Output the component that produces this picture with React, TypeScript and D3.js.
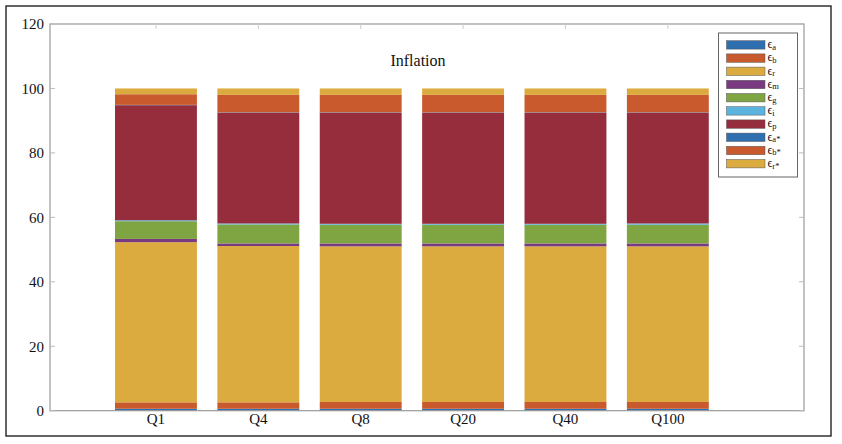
import * as d3 from "d3";
import { useEffect, useRef } from "react";

const categories = ["Q1", "Q4", "Q8", "Q20", "Q40", "Q100"];
const shockKeys = ["ea", "eb", "er", "em", "eg", "ei", "ep", "eas", "ebs", "ers"];
const shockSubs = ["a", "b", "r", "m", "g", "i", "p", "a*", "b*", "r*"];
const shockColors = [
    "#2f6fb0", "#c95a2e", "#dcab40", "#7a3a82", "#7fa442",
    "#5bb4de", "#962d3c", "#2f6fb0", "#c95a2e", "#dcab40",
];

// variance share (%) per horizon, one array per shock
const ea = [0.6, 0.6, 0.6, 0.6, 0.6, 0.6];
const eb = [2.0, 2.0, 2.1, 2.1, 2.1, 2.1];
const er = [49.7, 48.5, 48.3, 48.3, 48.3, 48.3];
const em = [1.0, 0.8, 0.9, 0.9, 0.9, 0.9];
const eg = [5.5, 5.9, 5.8, 5.8, 5.8, 5.8];
const ei = [0.3, 0.3, 0.3, 0.3, 0.3, 0.4];
const ep = [35.7, 34.4, 34.5, 34.5, 34.5, 34.4];
const eas = [0.1, 0.1, 0.1, 0.1, 0.1, 0.1];
const ebs = [3.3, 5.4, 5.4, 5.4, 5.4, 5.4];
const ers = [1.8, 2.0, 2.0, 2.0, 2.0, 2.0];

const yTicks = [0, 20, 40, 60, 80, 100, 120];

const App = () => {
    const ref = useRef<SVGSVGElement>(null);

    useEffect(() => {
        if (!ref.current) return;
        const svg = d3.select(ref.current);
        svg.selectAll("*").remove();

        const font = "Liberation Serif, Times New Roman, DejaVu Serif, serif";
        const left = 50, right = 804, top = 24, bottom = 410.7;

        const table = categories.map((c, i) => ({
            cat: c,
            ea: ea[i], eb: eb[i], er: er[i], em: em[i], eg: eg[i],
            ei: ei[i], ep: ep[i], eas: eas[i], ebs: ebs[i], ers: ers[i],
        }));
        const series = d3.stack<any>().keys(shockKeys)(table);

        const x = d3.scaleLinear().domain([-0.035, 7.33]).range([left, right]);
        const y = d3.scaleLinear().domain([0, 120]).range([bottom, top]);
        const barW = x(0.8) - x(0);

        // outer frame
        svg.append("rect")
            .attr("x", 6).attr("y", 6).attr("width", 825).attr("height", 430)
            .attr("fill", "white").attr("stroke", "#111").attr("stroke-width", 1.3);

        svg.append("g")
            .selectAll("g")
            .data(series)
            .join("g")
            .attr("fill", (_d, i) => shockColors[i])
            .selectAll("rect")
            .data((d) => d)
            .join("rect")
            .attr("x", (_d, i) => x(i + 1) - barW / 2)
            .attr("y", (d) => y(d[1]))
            .attr("width", barW)
            .attr("height", (d) => y(d[0]) - y(d[1]));

        // axes box + inward ticks
        const axis = svg.append("g").attr("stroke", "#999").attr("fill", "none");
        axis.append("rect")
            .attr("x", left).attr("y", top)
            .attr("width", right - left).attr("height", bottom - top)
            .attr("stroke-width", 1.2);
        yTicks.forEach((t) => {
            axis.append("line").attr("x1", left).attr("x2", left + 5)
                .attr("y1", y(t)).attr("y2", y(t)).attr("stroke", "#bbb");
            axis.append("line").attr("x1", right - 5).attr("x2", right)
                .attr("y1", y(t)).attr("y2", y(t)).attr("stroke", "#bbb");
        });
        categories.forEach((_c, i) => {
            axis.append("line").attr("x1", x(i + 1)).attr("x2", x(i + 1))
                .attr("y1", top).attr("y2", top + 5).attr("stroke", "#ccc");
        });

        svg.append("g")
            .selectAll("text")
            .data(yTicks)
            .join("text")
            .attr("x", 44)
            .attr("y", (d) => y(d))
            .attr("dy", "0.35em")
            .attr("text-anchor", "end")
            .attr("font-family", font)
            .attr("font-size", 15)
            .attr("fill", "#111")
            .text((d) => d);

        svg.append("g")
            .selectAll("text")
            .data(categories)
            .join("text")
            .attr("x", (_d, i) => x(i + 1))
            .attr("y", 424)
            .attr("text-anchor", "middle")
            .attr("font-family", font)
            .attr("font-size", 15)
            .attr("fill", "#111")
            .text((d) => d);

        svg.append("text")
            .attr("x", 418).attr("y", 66)
            .attr("text-anchor", "middle")
            .attr("font-family", font)
            .attr("font-size", 16)
            .attr("fill", "#111")
            .text("Inflation");

        // legend
        const lg = svg.append("g");
        lg.append("rect")
            .attr("x", 718.5).attr("y", 33).attr("width", 79).attr("height", 144)
            .attr("fill", "white").attr("stroke", "#666").attr("stroke-width", 1);
        const rows = lg.selectAll("g.row")
            .data(shockSubs)
            .join("g")
            .attr("transform", (_d, i) => `translate(0,${40.7 + i * 13.2})`);
        rows.append("rect")
            .attr("x", 726.5).attr("y", 0).attr("width", 38.5).attr("height", 8.4)
            .attr("fill", (_d, i) => shockColors[i])
            .attr("stroke", "#555").attr("stroke-width", 0.5);
        const lt = rows.append("text")
            .attr("x", 767.5).attr("y", 7.5)
            .attr("font-family", font)
            .attr("font-size", 12)
            .attr("fill", "#111");
        lt.append("tspan").text("\u03f5");
        lt.append("tspan")
            .attr("dy", 1.5)
            .attr("font-size", 8.5)
            .text((d) => d);
    }, []);

    return (
        <svg
            ref={ref}
            width={842}
            height={444}
            style={{ position: "absolute", left: 0, top: 0, background: "white" }}
        />
    );
};

export default App;
